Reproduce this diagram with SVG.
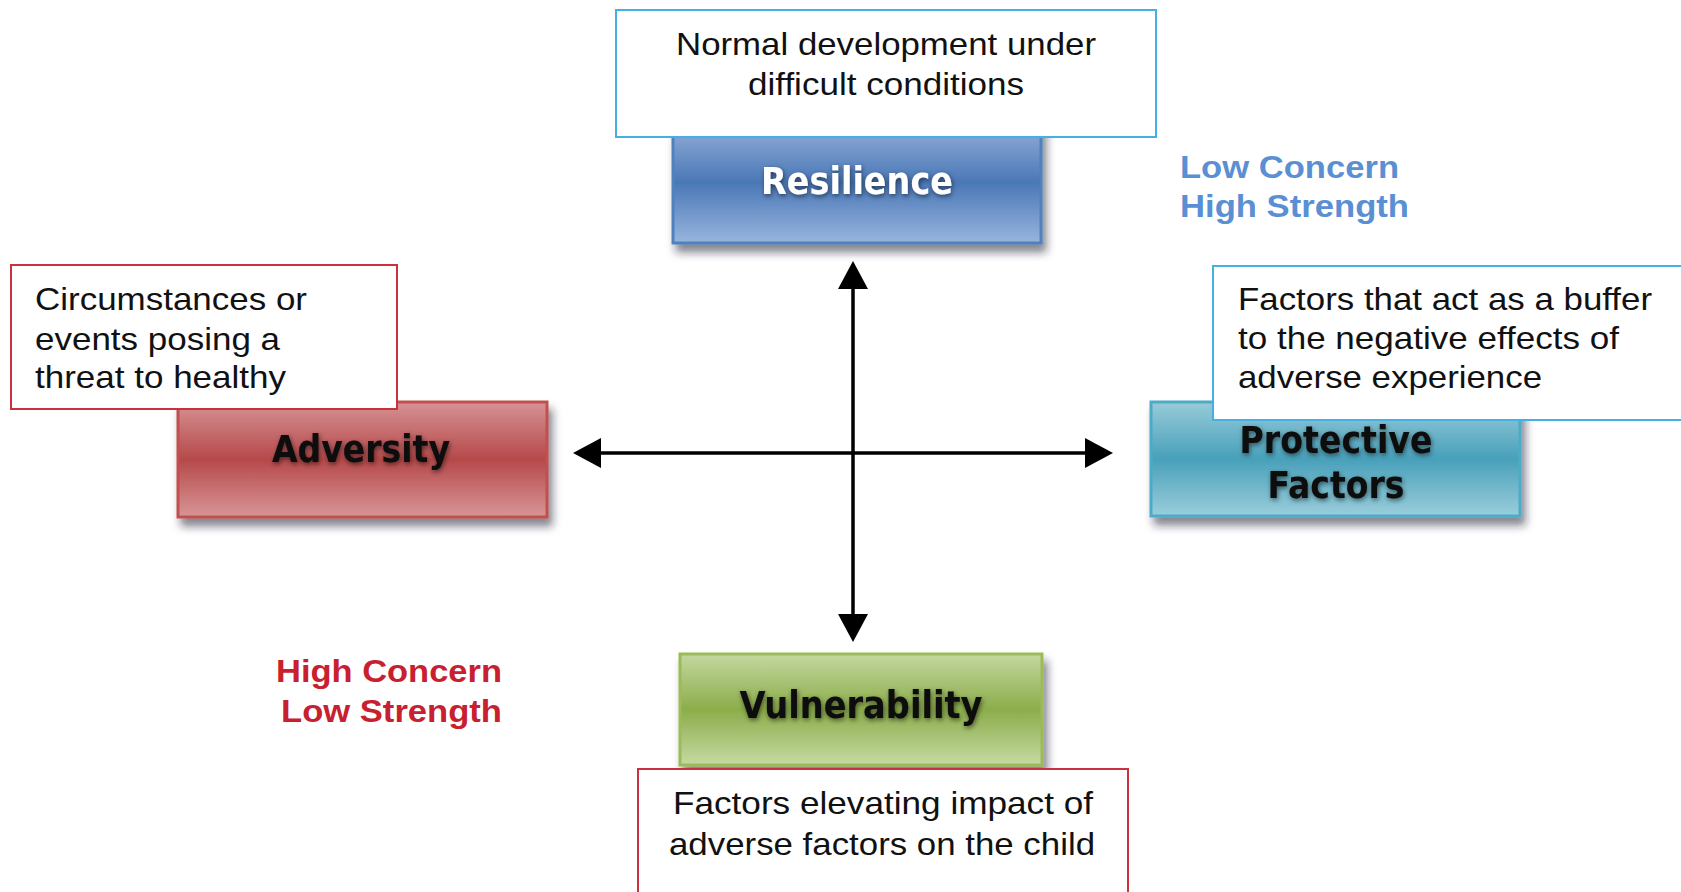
<svg xmlns="http://www.w3.org/2000/svg" width="1681" height="892" viewBox="0 0 1681 892">
<style>
.desc{fill:#fff;stroke-width:2}
.dblue{stroke:#45b0e6}
.dred{stroke:#c8323f}
.dt{font-family:'Liberation Sans',Arial,sans-serif;font-size:32px;fill:#111}
.tt{font-family:'DejaVu Sans Condensed','DejaVu Sans',sans-serif;font-weight:bold;font-size:37px;fill:#0a0a0a;text-anchor:middle}
.lab{font-family:'Liberation Sans',Arial,sans-serif;font-weight:bold;font-size:32px}
.ax{stroke:#000;stroke-width:3.5;fill:none}
</style>
<defs>
<linearGradient id="gBlue" x1="0" y1="0" x2="0" y2="1">
<stop offset="0" stop-color="#95b0d9"/><stop offset="0.5" stop-color="#4a78b7"/><stop offset="1" stop-color="#98b5dd"/>
</linearGradient>
<linearGradient id="gRed" x1="0" y1="0" x2="0" y2="1">
<stop offset="0" stop-color="#d69294"/><stop offset="0.5" stop-color="#b6494a"/><stop offset="1" stop-color="#d89597"/>
</linearGradient>
<linearGradient id="gTeal" x1="0" y1="0" x2="0" y2="1">
<stop offset="0" stop-color="#98cbd9"/><stop offset="0.5" stop-color="#48a0ba"/><stop offset="1" stop-color="#9bcedb"/>
</linearGradient>
<linearGradient id="gGreen" x1="0" y1="0" x2="0" y2="1">
<stop offset="0" stop-color="#c4d89f"/><stop offset="0.5" stop-color="#8cad4b"/><stop offset="1" stop-color="#c6daa2"/>
</linearGradient>
<filter id="shadow" x="-10%" y="-20%" width="130%" height="150%">
<feDropShadow dx="4" dy="8" stdDeviation="4" flood-color="#1c2436" flood-opacity="0.55"/>
</filter>
<filter id="tshadow" x="-10%" y="-30%" width="120%" height="160%">
<feDropShadow dx="1" dy="2" stdDeviation="2.5" flood-color="#000" flood-opacity="0.55"/>
</filter>
<marker id="arr" viewBox="0 0 28 30" markerWidth="28" markerHeight="30" refX="8" refY="15" markerUnits="userSpaceOnUse" orient="auto-start-reverse">
<path d="M0,0 L28,15 L0,30 z" fill="#000"/>
</marker>
</defs>
<rect width="1681" height="892" fill="#fff"/>

<g id="resilience">
<rect x="673" y="122" width="368" height="121" fill="url(#gBlue)" stroke="#4f81bd" stroke-width="3" filter="url(#shadow)"/>
<text class="tt" x="857" y="194" style="fill:#fff" textLength="192" lengthAdjust="spacingAndGlyphs" filter="url(#tshadow)">Resilience</text>
</g>
<g id="resilience-desc">
<rect class="desc dblue" x="616" y="10" width="540" height="127"/>
<text class="dt" x="886" y="55" text-anchor="middle" textLength="420" lengthAdjust="spacingAndGlyphs">Normal development under</text>
<text class="dt" x="886" y="95" text-anchor="middle" textLength="276" lengthAdjust="spacingAndGlyphs">difficult conditions</text>
</g>

<g id="adversity">
<rect x="178" y="402" width="369" height="115" fill="url(#gRed)" stroke="#c0504d" stroke-width="3" filter="url(#shadow)"/>
<text class="tt" x="361" y="462" textLength="178" lengthAdjust="spacingAndGlyphs" filter="url(#tshadow)">Adversity</text>
</g>
<g id="adversity-desc">
<rect class="desc dred" x="11" y="265" width="386" height="144"/>
<text class="dt" x="35" y="310" textLength="272" lengthAdjust="spacingAndGlyphs">Circumstances or</text>
<text class="dt" x="35" y="350" textLength="245" lengthAdjust="spacingAndGlyphs">events posing a</text>
<text class="dt" x="35" y="388" textLength="251" lengthAdjust="spacingAndGlyphs">threat to healthy</text>
</g>

<g id="protective">
<rect x="1151" y="402" width="369" height="114" fill="url(#gTeal)" stroke="#4bacc6" stroke-width="3" filter="url(#shadow)"/>
<text class="tt" x="1336" y="453" textLength="193" lengthAdjust="spacingAndGlyphs" filter="url(#tshadow)">Protective</text>
<text class="tt" x="1336" y="498" textLength="137" lengthAdjust="spacingAndGlyphs" filter="url(#tshadow)">Factors</text>
</g>
<g id="protective-desc">
<rect class="desc dblue" x="1213" y="266" width="490" height="154"/>
<text class="dt" x="1238" y="310" textLength="414" lengthAdjust="spacingAndGlyphs">Factors that act as a buffer</text>
<text class="dt" x="1238" y="349" textLength="381" lengthAdjust="spacingAndGlyphs">to the negative effects of</text>
<text class="dt" x="1238" y="388" textLength="304" lengthAdjust="spacingAndGlyphs">adverse experience</text>
</g>

<g id="vulnerability">
<rect x="680" y="654" width="362" height="111" fill="url(#gGreen)" stroke="#9bbb59" stroke-width="3" filter="url(#shadow)"/>
<text class="tt" x="861" y="718" textLength="243" lengthAdjust="spacingAndGlyphs" filter="url(#tshadow)">Vulnerability</text>
</g>
<g id="vulnerability-desc">
<rect class="desc dred" x="638" y="769" width="490" height="140"/>
<text class="dt" x="883" y="814" text-anchor="middle" textLength="420" lengthAdjust="spacingAndGlyphs">Factors elevating impact of</text>
<text class="dt" x="882" y="855" text-anchor="middle" textLength="426" lengthAdjust="spacingAndGlyphs">adverse factors on the child</text>
</g>

<g id="connectors">
<line class="ax" x1="853" y1="281" x2="853" y2="622" marker-start="url(#arr)" marker-end="url(#arr)"/>
<line class="ax" x1="593" y1="453" x2="1093" y2="453" marker-start="url(#arr)" marker-end="url(#arr)"/>
</g>

<g id="label-low-concern">
<text class="lab" x="1180" y="178" fill="#5b8fd4" textLength="219" lengthAdjust="spacingAndGlyphs">Low Concern</text>
<text class="lab" x="1180" y="217" fill="#5b8fd4" textLength="229" lengthAdjust="spacingAndGlyphs">High Strength</text>
</g>
<g id="label-high-concern">
<text class="lab" x="502" y="682" fill="#c8202f" text-anchor="end" textLength="226" lengthAdjust="spacingAndGlyphs">High Concern</text>
<text class="lab" x="502" y="722" fill="#c8202f" text-anchor="end" textLength="221" lengthAdjust="spacingAndGlyphs">Low Strength</text>
</g>
</svg>
